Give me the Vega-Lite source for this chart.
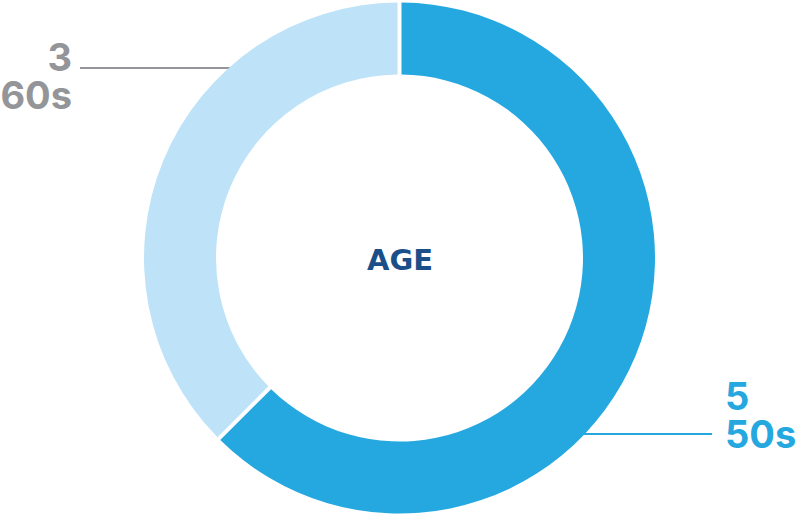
{
  "$schema": "https://vega.github.io/schema/vega-lite/v6.json",
  "width": 799,
  "height": 516,
  "autosize": {"type": "fit", "contains": "padding"},
  "padding": 0,
  "background": "white",
  "config": {"view": {"stroke": null}},
  "datasets": {
    "age": [
      {"category": "50s", "count": 5},
      {"category": "60s", "count": 3}
    ],
    "leaders": [
      {"category": "60s", "from": -1.248, "to": -0.66, "level": 0.742},
      {"category": "50s", "from": 0.697, "to": 1.221, "level": -0.6875}
    ],
    "center": [{"title": "AGE"}]
  },
  "layer": [
    {
      "data": {"name": "leaders"},
      "mark": {"type": "rule", "strokeWidth": 2},
      "encoding": {
        "x": {"field": "from", "type": "quantitative", "scale": {"domain": [-1.5605, 1.5605], "nice": false, "zero": false}, "axis": null},
        "x2": {"field": "to"},
        "y": {"field": "level", "type": "quantitative", "scale": {"domain": [-1.0078, 1.0078], "nice": false, "zero": false}, "axis": null},
        "stroke": {"condition": {"test": "datum.category === '60s'", "value": "#939598"}, "value": "#25A8E0"}
      }
    },
    {
      "data": {"name": "age"},
      "mark": {"type": "arc", "innerRadius": 183.5, "outerRadius": 255.5, "padAngle": 0.0127},
      "encoding": {
        "theta": {"field": "count", "type": "quantitative", "stack": true},
        "order": {"field": "category", "sort": "ascending"},
        "color": {"field": "category", "type": "nominal", "scale": {"domain": ["50s", "60s"], "range": ["#25A8E0", "#BEE3F8"]}, "legend": null}
      }
    },
    {
      "data": {"name": "age"},
      "mark": {"type": "text", "radius": 380, "align": "right", "baseline": "alphabetic", "dx": 23.6, "dy": -41.6, "font": "Inter", "fontWeight": "bold", "fontSize": 38, "color": "#939598"},
      "encoding": {
        "theta": {"field": "count", "type": "quantitative", "stack": true},
        "order": {"field": "category", "sort": "ascending"},
        "detail": {"field": "category", "type": "nominal"},
        "text": {"condition": {"test": "datum.category === '60s'", "field": "count", "type": "quantitative"}, "value": ""}
      }
    },
    {
      "data": {"name": "age"},
      "mark": {"type": "text", "radius": 380, "align": "right", "baseline": "alphabetic", "dx": 23.6, "dy": -3.6, "font": "Inter", "fontWeight": "bold", "fontSize": 38, "color": "#939598"},
      "encoding": {
        "theta": {"field": "count", "type": "quantitative", "stack": true},
        "order": {"field": "category", "sort": "ascending"},
        "detail": {"field": "category", "type": "nominal"},
        "text": {"condition": {"test": "datum.category === '60s'", "field": "category", "type": "nominal"}, "value": ""}
      }
    },
    {
      "data": {"name": "age"},
      "mark": {"type": "text", "radius": 380, "align": "left", "baseline": "alphabetic", "dx": -25.6, "dy": 6.6, "font": "Inter", "fontWeight": "bold", "fontSize": 38, "color": "#25A8E0"},
      "encoding": {
        "theta": {"field": "count", "type": "quantitative", "stack": true},
        "order": {"field": "category", "sort": "ascending"},
        "detail": {"field": "category", "type": "nominal"},
        "text": {"condition": {"test": "datum.category === '50s'", "field": "count", "type": "quantitative"}, "value": ""}
      }
    },
    {
      "data": {"name": "age"},
      "mark": {"type": "text", "radius": 380, "align": "left", "baseline": "alphabetic", "dx": -25.6, "dy": 44.6, "font": "Inter", "fontWeight": "bold", "fontSize": 38, "color": "#25A8E0"},
      "encoding": {
        "theta": {"field": "count", "type": "quantitative", "stack": true},
        "order": {"field": "category", "sort": "ascending"},
        "detail": {"field": "category", "type": "nominal"},
        "text": {"condition": {"test": "datum.category === '50s'", "field": "category", "type": "nominal"}, "value": ""}
      }
    },
    {
      "data": {"name": "center"},
      "mark": {"type": "text", "align": "center", "baseline": "alphabetic", "dx": 0.5, "dy": 12, "font": "DejaVu Sans", "fontWeight": "bold", "fontSize": 29, "color": "#1B4F8A"},
      "encoding": {
        "text": {"field": "title", "type": "nominal"}
      }
    }
  ]
}
